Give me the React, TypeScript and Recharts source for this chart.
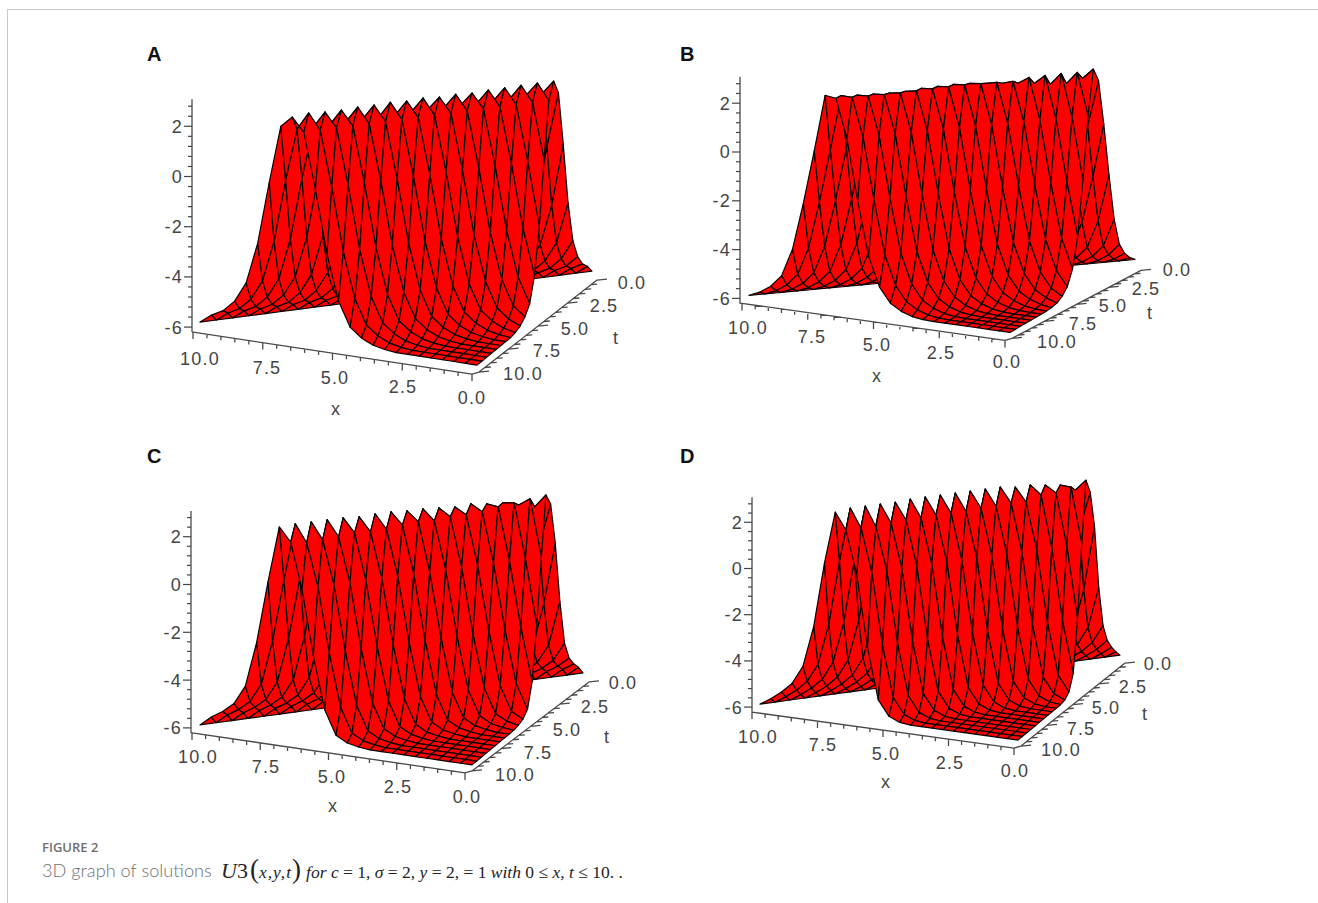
import React from "react";
import { ScatterChart, Scatter, XAxis, YAxis } from "recharts";

// surface height by diagonal k = (t - x) / step
const profileA = [-6, -5.65, -5.4, -4.95, -4.15, -2.5, 0, 2.2, 2.77, 2.2, 0, -2.5, -4.3, -5.27, -5.64, -5.85, -5.95, -6, -6, -6, -6, -6, -6, -6, -6];
const profileB = [-6, -5.8, -5.5, -5, -3.85, -1.9, 0.3, 2.5, 2.6, 1, -1.5, -3.7, -4.9, -5.5, -5.77, -5.92, -5.98, -6, -6, -6, -6, -6, -6, -6, -6];
const profileC = [-6, -5.6, -5.3, -4.9, -4.1, -2.2, 0.4, 2.7, 2.3, 0.3, -2.4, -4.6, -5.6, -5.85, -5.95, -6, -6, -6, -6, -6, -6, -6, -6, -6, -6];
const profileD = [-6, -5.7, -5.35, -4.9, -4.1, -2.3, 0.5, 2.8, 2.2, 0.2, -2.9, -5.1, -5.75, -5.95, -6, -6, -6, -6, -6, -6, -6, -6, -6, -6, -6];

// the two diagonals that make the teeth along the crest, from t = 10 back
const ridge7A = [2.3, 2.1, 2.1, 2.1, 2.15, 2.15, 2.15, 2.15, 2.2, 2.2, 2.2, 2.2, 2.2, 2.2, 2.2, 2.25, 2.25, 2.2];
const ridge8A = [2.74, 2.81, 2.77, 2.76, 2.8, 2.79, 2.82, 2.78, 2.82, 2.77, 2.8, 2.76, 2.8, 2.8, 2.82, 2.82, 2.82];
const ridge7B = [2.64, 2.57, 2.53, 2.51, 2.49, 2.5, 2.56, 2.58, 2.6, 2.58, 2.52, 2.46, 2.4, 2.33, 2.23, 2.2, 2.35, 2.2];
const ridge8B = [2.58, 2.56, 2.55, 2.55, 2.56, 2.58, 2.6, 2.62, 2.64, 2.63, 2.62, 2.6, 2.7, 2.72, 2.74, 2.72, 2.8];
const ridge7C = [2.77, 2.81, 2.8, 2.8, 2.79, 2.74, 2.77, 2.77, 2.72, 2.71, 2.66, 2.61, 2.65, 2.56, 2.51, 2.33, 2.16, 2.2];
const ridge8C = [2.21, 2.08, 2.12, 2.15, 2.23, 2.18, 2.2, 2.28, 2.33, 2.28, 2.36, 2.35, 2.39, 2.5, 2.58, 2.66, 2.73];
const ridge7D = [2.77, 2.85, 2.85, 2.85, 2.84, 2.89, 2.89, 2.88, 2.88, 2.88, 2.88, 2.88, 2.79, 2.79, 2.7, 2.61, 2.3, 2.13];
const ridge8D = [2.05, 2.05, 2, 2.09, 2.13, 2.13, 2.17, 2.17, 2.15, 2.2, 2.2, 2.25, 2.2, 2.42, 2.42, 2.59, 2.8];

const zTicks = [-6, -5.6, -5.2, -4.8, -4.4, -4, -3.6, -3.2, -2.8, -2.4, -2, -1.6, -1.2, -0.8, -0.4, 0, 0.4, 0.8, 1.2, 1.6, 2, 2.4, 2.8];
const floorTicks = [10, 9.5, 9, 8.5, 8, 7.5, 7, 6.5, 6, 5.5, 5, 4.5, 4, 3.5, 3, 2.5, 2, 1.5, 1, 0.5, 0];
const xTickLabels = ["10.0", "7.5", "5.0", "2.5", "0.0"];
const tTickLabels = ["0.0", "2.5", "5.0", "7.5", "10.0"];

const STEPS = 24;
const PLOT_W = 470;
const AXIS_W = 60;
const Z_TOP = 5;

type Pt = [number, number];
type Panel = {
  letter: string; letterAt: Pt; profile: number[]; ridge7: number[]; ridge8: number[];
  axisX: number; y6: number; unit: number;
  L: Pt; F: Pt; R: Pt; xStart: Pt; xEnd: Pt; tEnd: Pt;
  xLabels: Pt[]; tLabels: Pt[]; xTitle: Pt; tTitle: Pt;
};

const panels: Panel[] = [
  {
    letter: "A", letterAt: [154, 54], profile: profileA, ridge7: ridge7A, ridge8: ridge8A,
    axisX: 192, y6: 327, unit: 25.1,
    L: [200, 322], F: [477, 365], R: [592, 271], xStart: [193, 332], xEnd: [472, 374], tEnd: [597, 280],
    xLabels: [[200, 358], [267, 367], [335, 377], [403, 386], [472, 397]],
    tLabels: [[632, 282], [604, 305], [575, 328], [547, 350], [523, 373]],
    xTitle: [336, 408], tTitle: [616, 337],
  },
  {
    letter: "B", letterAt: [687, 54], profile: profileB, ridge7: ridge7B, ridge8: ridge8B,
    axisX: 740, y6: 298, unit: 24.4,
    L: [749, 295], F: [1010, 332], R: [1135, 259], xStart: [742, 303], xEnd: [1005, 340], tEnd: [1141, 270],
    xLabels: [[748, 327], [812, 336], [877, 344], [941, 352], [1007, 361]],
    tLabels: [[1177, 269], [1146, 288], [1113, 305], [1083, 323], [1057, 341]],
    xTitle: [877, 375], tTitle: [1150, 312],
  },
  {
    letter: "C", letterAt: [154, 456], profile: profileC, ridge7: ridge7C, ridge8: ridge8C,
    axisX: 191, y6: 728, unit: 23.9,
    L: [200, 725], F: [472, 765], R: [583, 673], xStart: [192, 733], xEnd: [465, 773], tEnd: [589, 682],
    xLabels: [[198, 757], [266, 767], [332, 777], [398, 787], [467, 797]],
    tLabels: [[623, 683], [595, 707], [567, 730], [538, 753], [515, 775]],
    xTitle: [333, 806], tTitle: [607, 737],
  },
  {
    letter: "D", letterAt: [687, 456], profile: profileD, ridge7: ridge7D, ridge8: ridge8D,
    axisX: 752, y6: 707, unit: 23.1,
    L: [760, 704], F: [1018, 740], R: [1120, 655], xStart: [752, 712], xEnd: [1014, 748], tEnd: [1125, 663],
    xLabels: [[758, 736], [823, 744], [886, 753], [950, 762], [1015, 770]],
    tLabels: [[1158, 663], [1133, 686], [1106, 707], [1081, 728], [1061, 749]],
    xTitle: [886, 781], tTitle: [1145, 713],
  },
];

const noMark = () => <g />;

function TickLabel(props: any) {
  const { cx, cy, payload } = props;
  return (
    <text x={cx} y={cy} dy="0.36em" textAnchor="middle" fontFamily="Liberation Sans" fontSize={18} letterSpacing={1.2} fill="#444">
      {payload.label}
    </text>
  );
}

function ZTick(props: any) {
  const { x, y, payload } = props;
  const major = Number.isInteger(payload.value);
  return (
    <g>
      <line x1={x - (major ? 8 : 4)} x2={x} y1={y} y2={y} stroke="#444" strokeWidth={1.2} />
      {major && (
        <text x={x - 9} y={y} dy="0.36em" textAnchor="end" fontFamily="Liberation Sans" fontSize={18} letterSpacing={1.2} fill="#444">
          {payload.value}
        </text>
      )}
    </g>
  );
}

// pairs of points -> separate strokes
function AxisStrokes(props: any) {
  const pts = props.points;
  let d = "";
  for (let i = 0; i + 1 < pts.length; i += 2) {
    d += `M${pts[i].x},${pts[i].y}L${pts[i + 1].x},${pts[i + 1].y}`;
  }
  return <path d={d} fill="none" stroke="#4a4a4a" strokeWidth={1.3} />;
}

function PanelChart({ panel }: { panel: Panel }) {
  const { axisX, y6, unit, L, F, R } = panel;
  const height = Math.round((Z_TOP + 6) * unit + 110);
  const zBottom = Z_TOP - height / unit;
  const toPlot = (sx: number, sy: number, z = -6) => ({ px: sx - axisX, pz: z + (y6 - sy) / unit });

  // x index 0..24 is x = 0..10, t index likewise; only t >= x has a surface
  const vertices: any[] = [];
  const lookup: Record<string, number> = {};
  for (let xi = 0; xi <= STEPS; xi++) {
    for (let ti = xi; ti <= STEPS; ti++) {
      const k = ti - xi;
      const z = k === 7 ? panel.ridge7[STEPS - ti] : k === 8 ? panel.ridge8[STEPS - ti] : panel.profile[k];
      const a = (STEPS - xi) / STEPS;
      const b = (STEPS - ti) / STEPS;
      // x = 10, t = 10 sits at L; F is x = 0, t = 10; R is x = 0, t = 0
      const sx = L[0] + a * (F[0] - L[0]) + b * (R[0] - F[0]);
      const sy = L[1] + a * (F[1] - L[1]) + b * (R[1] - F[1]);
      lookup[`${xi}:${ti}`] = vertices.length;
      vertices.push(toPlot(sx, sy, z));
    }
  }

  const SurfaceMesh = (props: any) => {
    const pts = props.points;
    const faces: React.ReactNode[] = [];
    // far corner first (x = 10, t = 0), so nearer cells paint over it
    for (let xi = STEPS - 1; xi >= 0; xi--) {
      for (let ti = 0; ti < STEPS; ti++) {
        const corners = [`${xi}:${ti}`, `${xi + 1}:${ti}`, `${xi + 1}:${ti + 1}`, `${xi}:${ti + 1}`]
          .map((key) => lookup[key])
          .filter((i) => i !== undefined)
          .map((i) => `${pts[i].x},${pts[i].y}`);
        if (corners.length >= 3) {
          faces.push(<polygon key={`${xi}-${ti}`} points={corners.join(" ")} fill="#fe0000" stroke="#0a0000" strokeWidth={1.2} strokeLinejoin="round" />);
        }
      }
    }
    return <g>{faces}</g>;
  };

  // axis strokes: frame lines plus a tick at every half unit
  const strokes: any[] = [];
  const addStroke = (a: Pt, b: Pt) => strokes.push(toPlot(a[0], a[1]), toPlot(b[0], b[1]));
  const tStart: Pt = [panel.xEnd[0] + 7, panel.xEnd[1] - 2];
  addStroke([axisX, panel.xStart[1]], [axisX, y6 - (3.08 + 6) * unit]);
  addStroke([axisX, panel.xStart[1]], panel.xStart);
  addStroke(panel.xStart, panel.xEnd);
  addStroke(panel.xEnd, tStart);
  addStroke(tStart, panel.tEnd);
  floorTicks.forEach((v) => {
    const major = v % 2.5 === 0;
    const a = (10 - v) / 10;
    const xp: Pt = [panel.xStart[0] + a * (panel.xEnd[0] - panel.xStart[0]), panel.xStart[1] + a * (panel.xEnd[1] - panel.xStart[1])];
    addStroke(xp, [xp[0], xp[1] + (major ? 7 : 4)]);
    const tp: Pt = [tStart[0] + a * (panel.tEnd[0] - tStart[0]), tStart[1] + a * (panel.tEnd[1] - tStart[1])];
    addStroke(tp, [tp[0] + (major ? 10 : 6), tp[1] - (major ? 1 : 0.5)]);
  });

  const labels = [
    ...xTickLabels.map((label, i) => ({ ...toPlot(panel.xLabels[i][0], panel.xLabels[i][1]), label })),
    ...tTickLabels.map((label, i) => ({ ...toPlot(panel.tLabels[i][0], panel.tLabels[i][1]), label })),
    { ...toPlot(panel.xTitle[0], panel.xTitle[1]), label: "x" },
    { ...toPlot(panel.tTitle[0], panel.tTitle[1]), label: "t" },
  ];

  return (
    <div style={{ position: "absolute", left: axisX - AXIS_W, top: y6 - (Z_TOP + 6) * unit }}>
      <ScatterChart width={AXIS_W + PLOT_W} height={height} margin={{ top: 0, right: 0, bottom: 0, left: 0 }}>
        <XAxis type="number" dataKey="px" domain={[0, PLOT_W]} hide />
        <YAxis
          type="number"
          dataKey="pz"
          width={AXIS_W}
          domain={[zBottom, Z_TOP]}
          ticks={zTicks}
          interval={0}
          axisLine={false}
          tickLine={false}
          tickSize={0}
          tickMargin={0}
          tick={<ZTick />}
        />
        <Scatter data={strokes} shape={noMark} line={AxisStrokes} isAnimationActive={false} />
        <Scatter data={vertices} shape={noMark} line={SurfaceMesh} isAnimationActive={false} />
        <Scatter data={labels} shape={TickLabel} isAnimationActive={false} />
      </ScatterChart>
    </div>
  );
}

const serif = { fontFamily: "Liberation Serif", color: "#222" };

export default function App() {
  return (
    <div style={{ position: "absolute", left: 0, top: 0, width: 1318, height: 903, background: "#fff", overflow: "hidden" }}>
      <div style={{ position: "absolute", left: 7, top: 9, width: 1311, height: 1, background: "#c9c9c9" }} />
      <div style={{ position: "absolute", left: 7, top: 9, width: 1, height: 894, background: "#c9c9c9" }} />
      {panels.map((p) => (
        <PanelChart key={p.letter} panel={p} />
      ))}
      {panels.map((p) => (
        <div
          key={p.letter}
          style={{ position: "absolute", left: p.letterAt[0] - 7, top: p.letterAt[1] - 12, fontFamily: "Liberation Sans", fontWeight: 700, fontSize: 20, lineHeight: "24px", color: "#111" }}
        >
          {p.letter}
        </div>
      ))}
      <div style={{ position: "absolute", left: 42, top: 839, fontFamily: "Open Sans", fontWeight: 600, fontSize: 13, lineHeight: "16px", color: "#6f6f6f" }}>
        FIGURE 2
      </div>
      <div style={{ position: "absolute", left: 42, top: 858, fontFamily: "Lato", fontWeight: 300, fontSize: 18.2, lineHeight: "24px", color: "#6f6f6f", whiteSpace: "nowrap" }}>
        3D graph of solutions
      </div>
      <div style={{ position: "absolute", left: 221, top: 857, fontSize: 17.5, lineHeight: "24px", whiteSpace: "nowrap", ...serif }}>
        <i style={{ fontSize: 22 }}>U</i>
        <span style={{ fontSize: 22 }}>3</span>
        <span style={{ fontSize: 27, marginLeft: 2 }}>(</span>
        <i style={{ letterSpacing: 1 }}>x,y,t</i>
        <span style={{ fontSize: 27, marginRight: 5 }}>)</span>
        <i>for c</i> = 1, <i>σ</i> = 2, <i>y</i> = 2, = 1 <i>with</i> 0 ≤ <i>x, t</i> ≤ 10. .
      </div>
    </div>
  );
}
